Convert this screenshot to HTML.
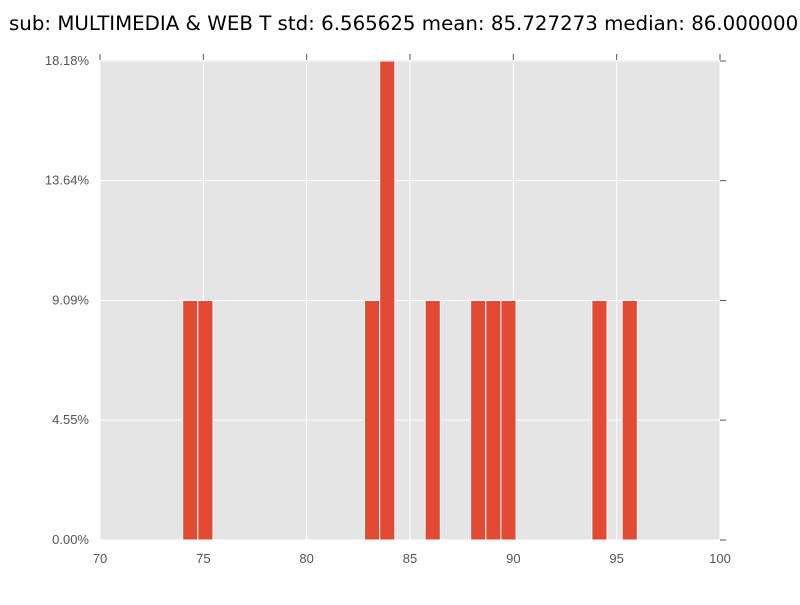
<!DOCTYPE html>
<html><head><meta charset="utf-8"><style>
body{margin:0;background:#fff;}
svg{font-family:"Liberation Sans","DejaVu Sans",sans-serif;}
</style></head><body>
<svg width="800" height="600">
<text x="9" y="30" font-size="19.8" fill="#000" font-family="DejaVu Sans, Liberation Sans, sans-serif">sub: MULTIMEDIA &amp; WEB T std: 6.565625 mean: 85.727273 median: 86.000000</text>
<rect x="100" y="60" width="620" height="480" fill="#e5e5e5"/>
<g id="grid"></g><g id="bars"></g><g id="axes"></g>
</svg>
<script>
const binStarts=[74,74.7333,82.8,83.5333,85.7333,87.9333,88.6667,89.4,93.8,95.2667];
const percents=[9.09,9.09,9.09,18.18,9.09,9.09,9.09,9.09,9.09,9.09];
const binWidth=0.7333;
const xTicks=[70,75,80,85,90,95,100];
const yTicks=[0,4.55,9.09,13.64,18.18];
const yLabels=["0.00%","4.55%","9.09%","13.64%","18.18%"];
const X=v=>100+(v-70)/30*620, Y=v=>540-v/18.18*479;
const NS="http://www.w3.org/2000/svg";
function mk(t,a,p){const e=document.createElementNS(NS,t);for(const k in a)e.setAttribute(k,a[k]);p.appendChild(e);return e;}
const g=document.getElementById('grid'),b=document.getElementById('bars'),ax=document.getElementById('axes');
xTicks.forEach(t=>{
 const l=mk('line',{x1:X(t),x2:X(t),y1:60,y2:540,stroke:'#fff','stroke-width':1},g);
 
 
 const tk=mk('line',{x1:X(t),x2:X(t),y1:54,y2:60,stroke:'#555'},ax);
 
 
 const tx=mk('text',{x:X(t),y:563,'text-anchor':'middle','font-size':13,fill:'#555'},ax);
 tx.textContent=t;
 
 
});
yTicks.forEach((t,i)=>{
 const l=mk('line',{x1:100,x2:720,y1:Y(t),y2:Y(t),stroke:'#fff','stroke-width':1},g);
 
 
 const tk=mk('line',{x1:720,x2:726,y1:Y(t),y2:Y(t),stroke:'#555'},ax);
 
 
 const tx=mk('text',{x:89,y:Y(t)+4,'text-anchor':'end','font-size':13,fill:'#555'},ax);
 tx.textContent=yLabels[i];
 
 
});
binStarts.forEach((s,i)=>{
 const r=mk('rect',{x:X(s),y:Y(percents[i]),width:X(s+binWidth)-X(s),height:540-Y(percents[i]),fill:'#e24a33',stroke:'#fff','stroke-width':1},b);
 
 
});
</script>
</body></html>
